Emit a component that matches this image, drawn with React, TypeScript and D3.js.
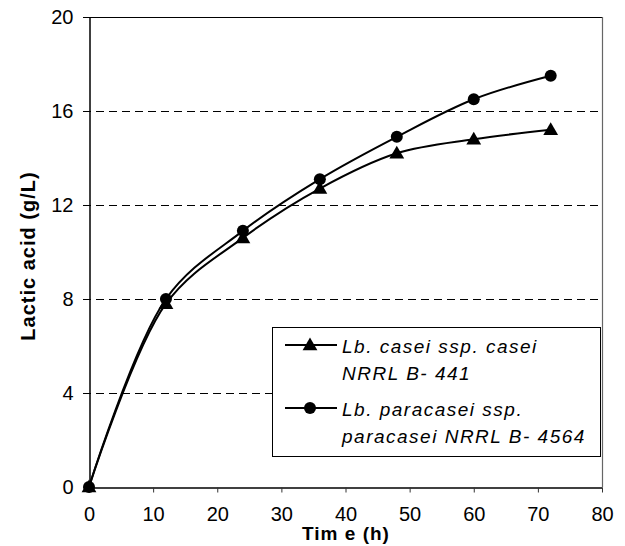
import React, { useEffect, useRef } from "react";
import * as d3 from "d3";

// time points (h)
const hours = [0, 12, 24, 36, 48, 60, 72];
// lactic acid (g/L)
const caseiValues = [0, 7.8, 10.6, 12.7, 14.2, 14.8, 15.2];
const paracaseiValues = [0, 8.0, 10.9, 13.1, 14.9, 16.5, 17.5];

const xTicks = [0, 10, 20, 30, 40, 50, 60, 70, 80];
const yTicks = [0, 4, 8, 12, 16, 20];
const gridTicks = [4, 8, 12, 16];

const legendRows = [
  { marker: "triangle", lines: ["Lb. casei ssp. casei", "NRRL B- 441"] },
  { marker: "circle", lines: ["Lb. paracasei ssp.", "paracasei NRRL B- 4564"] },
];

const App = () => {
  const svgRef = useRef(null);

  useEffect(() => {
    const width = 625;
    const height = 546;
    const margin = { left: 89, top: 17, right: 23, bottom: 59 };
    const font = "'Liberation Sans', Arial, sans-serif";

    const svg = d3.select(svgRef.current)
      .attr("width", width)
      .attr("height", height);

    svg.selectAll("*").remove();

    const x = d3.scaleLinear()
      .domain([0, 80])
      .range([margin.left, width - margin.right]);
    const y = d3.scaleLinear()
      .domain([0, 20])
      .range([height - margin.bottom, margin.top]);

    // gridlines
    svg.append("g")
      .selectAll("line")
      .data(gridTicks)
      .join("line")
      .attr("x1", x(0) - 6)
      .attr("x2", x(80))
      .attr("y1", (d) => y(d) + 0.5)
      .attr("y2", (d) => y(d) + 0.5)
      .attr("stroke", "#000")
      .attr("stroke-width", 1)
      .attr("stroke-dasharray", "8,5");

    // top and right frame
    svg.append("line")
      .attr("x1", x(0) - 6).attr("x2", x(80))
      .attr("y1", y(20) + 0.5).attr("y2", y(20) + 0.5)
      .attr("stroke", "#000").attr("stroke-width", 1.2);
    svg.append("line")
      .attr("x1", x(80) + 0.5).attr("x2", x(80) + 0.5)
      .attr("y1", y(20)).attr("y2", y(0))
      .attr("stroke", "#666").attr("stroke-width", 1.2);

    // x axis
    const xAxis = svg.append("g")
      .attr("transform", `translate(0,${y(0) + 0.5})`)
      .call(d3.axisBottom(x).tickValues(xTicks).tickSize(5).tickPadding(14).tickSizeOuter(0));
    xAxis.select(".domain").attr("stroke", "#000").attr("stroke-width", 1.5);
    xAxis.selectAll(".tick line").attr("stroke", "#333");
    xAxis.selectAll("text")
      .attr("font-family", font)
      .attr("font-size", 20)
      .attr("fill", "#000");

    // y axis
    const yAxis = svg.append("g")
      .attr("transform", `translate(${x(0) + 0.5},0)`)
      .call(d3.axisLeft(y).tickValues(yTicks).tickSize(6).tickPadding(10).tickSizeOuter(0));
    yAxis.select(".domain").attr("stroke", "#000").attr("stroke-width", 1.5);
    yAxis.selectAll(".tick line").attr("stroke", "#000");
    yAxis.selectAll("text")
      .attr("font-family", font)
      .attr("font-size", 20)
      .attr("fill", "#000");

    // axis titles
    svg.append("text")
      .attr("transform", `translate(35,256) rotate(-90)`)
      .attr("text-anchor", "middle")
      .attr("font-family", font)
      .attr("font-weight", "bold")
      .attr("font-size", 20)
      .attr("letter-spacing", 1)
      .text("Lactic acid (g/L)");

    svg.append("text")
      .attr("x", 346)
      .attr("y", 540)
      .attr("text-anchor", "middle")
      .attr("font-family", font)
      .attr("font-weight", "bold")
      .attr("font-size", 19)
      .attr("letter-spacing", 1)
      .text("Tim e (h)");

    // series
    const series = [
      { values: caseiValues, marker: "triangle" },
      { values: paracaseiValues, marker: "circle" },
    ];
    const line = d3.line()
      .x((d) => x(d[0]))
      .y((d) => y(d[1]))
      .curve(d3.curveCatmullRom.alpha(0.5));

    const triangle = d3.symbol().type(d3.symbolTriangle).size(95);

    series.forEach((s) => {
      const pts = hours.map((h, i) => [h, s.values[i]]);
      svg.append("path")
        .attr("d", line(pts))
        .attr("fill", "none")
        .attr("stroke", "#000")
        .attr("stroke-width", 2);

      if (s.marker === "circle") {
        svg.append("g")
          .selectAll("circle")
          .data(pts)
          .join("circle")
          .attr("cx", (d) => x(d[0]))
          .attr("cy", (d) => y(d[1]))
          .attr("r", 6)
          .attr("fill", "#000");
      } else {
        svg.append("g")
          .selectAll("path")
          .data(pts)
          .join("path")
          .attr("d", triangle)
          .attr("transform", (d) => `translate(${x(d[0])},${y(d[1]) + 1})`)
          .attr("fill", "#000");
      }
    });

    // legend
    const lg = svg.append("g").attr("transform", "translate(272,327)");
    lg.append("rect")
      .attr("x", 0.5).attr("y", 0.5)
      .attr("width", 328).attr("height", 129)
      .attr("fill", "#fff")
      .attr("stroke", "#000")
      .attr("stroke-width", 1);

    legendRows.forEach((row, i) => {
      const cy = 18 + i * 63;
      lg.append("line")
        .attr("x1", 13).attr("x2", 65)
        .attr("y1", cy).attr("y2", cy)
        .attr("stroke", "#000").attr("stroke-width", 2);
      if (row.marker === "circle") {
        lg.append("circle").attr("cx", 38).attr("cy", cy).attr("r", 6).attr("fill", "#000");
      } else {
        lg.append("path").attr("d", triangle).attr("transform", `translate(38,${cy + 1})`).attr("fill", "#000");
      }
      row.lines.forEach((t, j) => {
        lg.append("text")
          .attr("x", 70)
          .attr("y", cy + 8 + j * 27)
          .attr("font-family", font)
          .attr("font-style", "italic")
          .attr("font-size", 19)
          .attr("letter-spacing", 1.5)
          .text(t);
      });
    });
  }, []);

  return (
    <svg ref={svgRef} style={{ position: "absolute", left: 0, top: 0, background: "#fff" }} />
  );
};

export default App;
